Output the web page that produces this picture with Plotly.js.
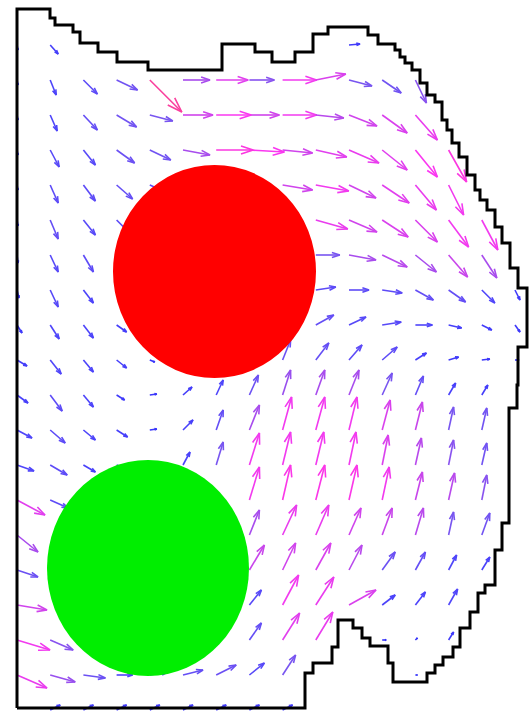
<!DOCTYPE html>
<html>
<head>
<meta charset="utf-8">
<script src="https://cdn.plot.ly/plotly-3.0.1.min.js"></script>
<style>html,body{margin:0;padding:0;background:#fff;}#plot{width:529px;height:713px;}</style>
</head>
<body>
<div id="plot"></div>
<script>
// grid of the vector field (figure coordinates)
const colX = [17, 50.2, 83.4, 116.6, 149.8, 183, 216.2, 249.4, 282.6, 315.8, 349, 382.2, 415.4, 448.6, 481.8, 515];
const rowY = [45, 80, 115, 150, 185, 220, 255, 290, 325, 360, 395, 430, 465, 500, 535, 570, 605, 640, 675, 710];
const n = null;
// horizontal component per row
const U = [
 [1,8,n,n,n,n,n,n,n,n,11,n,n,n,n,n],
 [1,6,14,21,32,27,32,25,34,30,23,19,11,n,n,n],
 [1,7,14,20,23,30,35,30,34,28,28,25,22,n,n,n],
 [1,9,12,18,21,27,37,35,30,31,30,25,22,18,n,n],
 [1,8,12,16,18,n,n,n,30,33,27,27,21,15,n,n],
 [1,8,12,14,n,n,n,n,n,32,28,26,22,20,16,n],
 [1,8,10,n,n,n,n,n,n,24,27,25,21,19,15,n],
 [2,8,10,n,n,n,n,n,n,20,20,20,18,17,13,5],
 [5,9,10,10,n,n,n,n,n,18,17,19,17,13,10,5],
 [10,11,10,10,5,n,n,n,8,13,13,15,11,10,8,4],
 [11,12,10,8,7,9,7,9,8,9,10,10,8,7,6,n],
 [15,15,12,11,7,10,7,10,9,9,8,8,7,5,5,n],
 [17,17,12,8,n,7,7,10,8,8,7,6,6,5,5,n],
 [28,18,n,n,n,n,n,10,8,9,8,7,7,6,5,n],
 [21,n,n,n,n,n,n,10,14,13,12,10,8,5,8,n],
 [21,n,n,n,n,n,n,15,13,15,13,13,10,8,8,n],
 [30,n,n,n,n,n,n,12,16,18,27,13,10,9,n,n],
 [33,23,n,n,n,n,n,12,17,17,n,4,2,5,n,n],
 [30,25,22,16,18,20,20,15,13,n,n,n,2,n,n,n],
 [n,10,10,10,10,10,10,10,10,n,n,n,n,n,n,n]
];
// vertical component per row (positive = downwards on the page)
const V = [
 [5,9,n,n,n,n,n,n,n,n,-1,n,n,n,n,n],
 [5,15,14,10,32,0,0,0,0,-6,6,13,23,n,n,n],
 [5,16,15,12,6,0,0,0,0,3,11,18,25,n,n,n],
 [5,17,15,13,10,5,0,2,3,7,13,20,27,32,n,n],
 [5,18,16,14,8,n,n,n,5,6,13,18,25,30,n,n],
 [6,19,15,14,n,n,n,n,n,9,12,17,22,27,30,n],
 [8,17,17,n,n,n,n,n,n,0,5,12,17,22,23,n],
 [8,17,13,n,n,n,n,n,n,-3,0,3,10,12,13,10],
 [8,14,13,7,n,n,n,n,n,-10,-8,-3,0,3,5,7],
 [6,14,12,8,2,n,n,n,-20,-17,-15,-13,-7,-3,-1,0],
 [8,16,12,5,-1,-8,-15,-20,-25,-25,-25,-22,-19,-12,-10,n],
 [8,13,10,7,-1,-10,-20,-25,-33,-33,-33,-30,-28,-23,-22,n],
 [6,10,7,3,n,-13,-23,-32,-33,-33,-33,-30,-27,-25,-22,n],
 [15,8,n,n,n,n,n,-33,-35,-35,-35,-33,-28,-27,-25,n],
 [17,n,n,n,n,n,n,-25,-30,-30,-27,-27,-27,-23,-22,n],
 [7,n,n,n,n,n,n,-25,-27,-27,-25,-18,-18,-15,-13,n],
 [5,n,n,n,n,n,n,-15,-30,-28,-15,-10,-13,-16,n,n],
 [10,10,n,n,n,n,n,-17,-27,-28,n,0,-2,-8,n,n],
 [13,7,3,0,-3,-5,-10,-12,-20,n,n,n,0,n,n,n],
 [n,-5,-5,-5,-5,-5,-5,-5,-5,n,n,n,n,n,n,n]
];
// domain boundary vertices
const bx = [17,17,50,50,55,55,73,73,80,80,98,98,117,117,148,148,222,222,255,255,272,272,295,295,313,313,328,328,368,368,378,378,395,395,400,400,405,405,412,412,420,420,427,427,435,435,442,442,447,447,452,452,459,459,467,467,475,475,480,480,487,487,495,495,502,502,510,510,518,518,527,527,518,518,517,517,509,509,502,502,495,495,485,485,478,478,470,470,460,460,453,453,443,443,435,435,427,427,393,393,388,388,370,370,362,362,353,353,338,338,332,332,313,313,305,305,17];
const by = [708,9,9,18,18,25,25,32,32,43,43,52,52,62,62,70,70,44,44,52,52,62,62,52,52,34,34,27,27,35,35,44,44,50,50,57,57,63,63,70,70,83,83,95,95,102,102,120,120,130,130,143,143,157,157,175,175,190,190,200,200,210,210,227,227,243,243,268,268,288,288,347,347,385,385,408,408,523,523,550,550,585,585,593,593,612,612,628,628,647,647,657,657,665,665,673,673,682,682,663,663,646,646,638,638,628,628,620,620,647,647,663,663,673,673,708,708];
// obstacles: [xmin, xmax, ymin, ymax]
const redDisk = [113, 316, 165, 378];
const greenDisk = [47, 249, 460, 676];

const stops = [[0,[45,45,250]],[18,[80,70,250]],[24,[120,85,240]],[29,[200,70,235]],[35,[250,55,240]],[42,[255,55,185]],[48,[245,70,130]]];
function colorFor(m){
  if (m <= stops[0][0]) return stops[0][1];
  for (let k=1;k<stops.length;k++){
    if (m <= stops[k][0]){
      const a=stops[k-1], b=stops[k];
      const t=(m-a[0])/(b[0]-a[0]);
      return a[1].map((c,i)=>Math.round(c+(b[1][i]-c)*t));
    }
  }
  return stops[stops.length-1][1];
}
const groups = {};
const alpha = 0.33, beta = 0.33;
for (let j=0;j<rowY.length;j++){
  for (let i=0;i<colX.length;i++){
    const u=U[j][i], v=V[j][i];
    if (u===null || v===null) continue;
    const m = Math.round(Math.hypot(u,v));
    const c = colorFor(m);
    const key = 'rgb('+c.join(',')+')';
    if(!groups[key]) groups[key]={x:[],y:[]};
    const g=groups[key];
    const x0=colX[i], y0=rowY[j], x1=x0+u, y1=y0+v;
    g.x.push(x0,x1,null, x1-alpha*(u+beta*v), x1, x1-alpha*(u-beta*v), null);
    g.y.push(y0,y1,null, y1-alpha*(v-beta*u), y1, y1-alpha*(v+beta*u), null);
  }
}
const traces = Object.keys(groups).map(k=>({
  type:'scatter', mode:'lines', x:groups[k].x, y:groups[k].y,
  line:{color:k, width:1.6}, hoverinfo:'skip', showlegend:false
}));
traces.push({type:'scatter', mode:'lines', x:bx, y:by, line:{color:'#000', width:3}, hoverinfo:'skip', showlegend:false});

const layout = {
  width:529, height:713, margin:{l:0,r:0,t:0,b:0},
  paper_bgcolor:'#fff', plot_bgcolor:'#fff', showlegend:false,
  xaxis:{range:[0,529], visible:false, fixedrange:true},
  yaxis:{range:[713,0], visible:false, fixedrange:true},
  shapes:[
    {type:'circle', xref:'x', yref:'y', x0:redDisk[0], x1:redDisk[1], y0:redDisk[2], y1:redDisk[3], fillcolor:'#ff0000', line:{width:0}, layer:'above'},
    {type:'circle', xref:'x', yref:'y', x0:greenDisk[0], x1:greenDisk[1], y0:greenDisk[2], y1:greenDisk[3], fillcolor:'#00ee00', line:{width:0}, layer:'above'}
  ]
};
Plotly.newPlot('plot', traces, layout, {displayModeBar:false, staticPlot:true});
</script>
</body>
</html>
